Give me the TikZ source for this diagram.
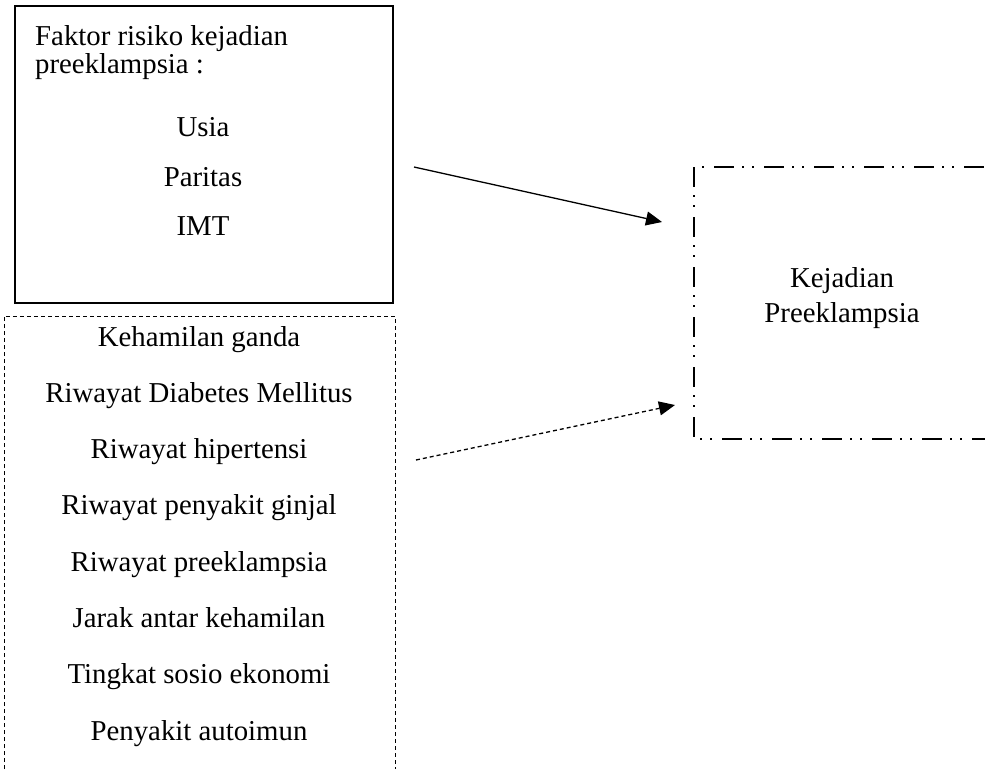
\documentclass[tikz,border=0pt]{standalone}
\usepackage{fontspec}
\setmainfont{Liberation Serif}
\usetikzlibrary{arrows.meta}
\tikzset{
  txt/.style={font=\fontsize{28.8}{34}\selectfont, anchor=base, inner sep=0pt},
  txtl/.style={txt, anchor=base west},
  solidbox/.style={draw, line width=2.2pt},
  dashbox/.style={draw, line width=1pt, dash pattern=on 4pt off 3pt},
  ddbox/.style={draw, line width=2pt, dash pattern=on 20pt off 8pt on 2pt off 8pt on 2pt off 10pt},
  arr/.style={line width=1.3pt, -{Triangle[length=16pt,width=14pt]}},
}
\begin{document}
\begin{tikzpicture}[x=1pt,y=-1pt]
\useasboundingbox (0,0) rectangle (985,769);
% top solid box
\node[solidbox, minimum width=378pt, minimum height=297pt, anchor=north west, inner sep=0pt] (faktor) at (14,5) {};
\node[txtl] (t1) at (35,45) {Faktor risiko kejadian};
\node[txtl] (t2) at (35,73) {preeklampsia :};
\node[txt] (usia) at (203,136) {Usia};
\node[txt] (paritas) at (203,186) {Paritas};
\node[txt] (imt) at (203,235) {IMT};
% dashed open box
\draw[dashbox] (4,769) -- (4,316) -- (395,316) -- (395,769);
\node[txt] (l1) at (199,346) {Kehamilan ganda};
\node[txt] (l2) at (199,402.3) {Riwayat Diabetes Mellitus};
\node[txt] (l3) at (199,458.6) {Riwayat hipertensi};
\node[txt] (l4) at (199,514.9) {Riwayat penyakit ginjal};
\node[txt] (l5) at (199,571.1) {Riwayat preeklampsia};
\node[txt] (l6) at (199,627.4) {Jarak antar kehamilan};
\node[txt] (l7) at (199,683.7) {Tingkat sosio ekonomi};
\node[txt] (l8) at (199,740) {Penyakit autoimun};
% dash-dot-dot open box
\draw[ddbox, dash phase=30pt] (694,167) -- (985,167);
\draw[ddbox] (694,167) -- (694,439) -- (985,439);
\node[txt] (k1) at (842,287) {Kejadian};
\node[txt] (k2) at (842,322) {Preeklampsia};
% arrows
\coordinate (a1s) at (414,167);
\coordinate (a1e) at (662,222);
\coordinate (a2s) at (416,460);
\coordinate (a2e) at (675,405);
\draw[arr] (a1s) -- (a1e);
\draw[arr, dash pattern=on 4pt off 3pt] (a2s) -- (a2e);
\end{tikzpicture}
\end{document}
